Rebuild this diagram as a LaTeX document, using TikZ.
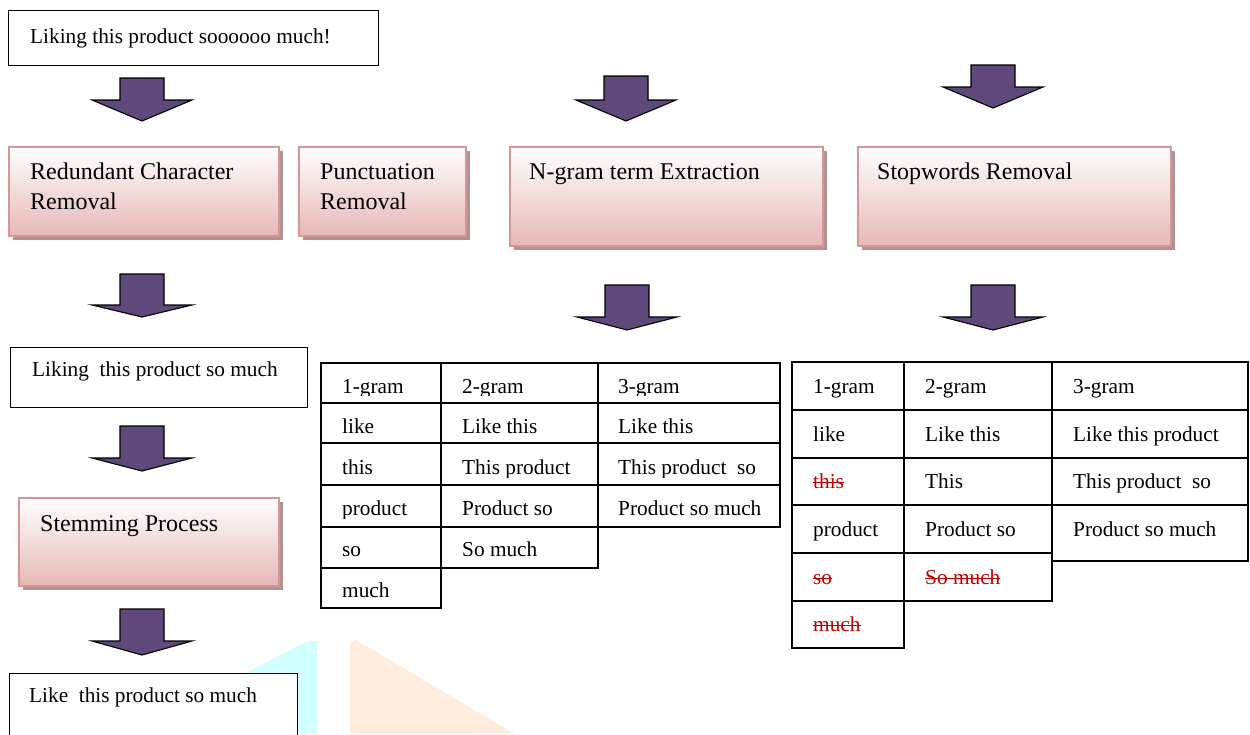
\documentclass[tikz,border=0pt]{standalone}
\usepackage{fontspec}
\setmainfont{Liberation Serif}
\usetikzlibrary{shadows}
\definecolor{arrowfill}{HTML}{5F497A}
\definecolor{pinkedge}{HTML}{D99594}
\definecolor{pinkbot}{HTML}{E5B8B7}
\definecolor{pinkmid}{HTML}{F3E1E1}
\definecolor{shadowc}{HTML}{B09393}
\definecolor{strikec}{HTML}{C00000}
\definecolor{wmcyan}{HTML}{D2FFFF}
\definecolor{wmorange}{HTML}{FFEEDD}
\newlength{\strklen}
\newcommand{\Strk}[1]{\settowidth{\strklen}{#1}\textcolor{strikec}{\rlap{\rule[0.24em]{\strklen}{1.1pt}}#1}}
\newcommand{\BlkArrow}[4]{% cx, top, body height, head height
  \draw[blockarr] (#1-22,#2) -- (#1+22,#2) -- (#1+22,#2+#3) -- (#1+50,#2+#3)
    -- (#1,#2+#3+#4) -- (#1-50,#2+#3) -- (#1-22,#2+#3) -- cycle;}
\tikzset{
  blockarr/.style={fill=arrowfill, draw=black, line width=1.1pt, line join=miter},
  plainbox/.style={draw=black, line width=1.4pt, fill=white, anchor=north west, inner sep=0pt},
  gradbox/.style={draw=pinkedge, line width=1.8pt, anchor=north west, inner sep=0pt,
    top color=white, middle color=pinkmid, bottom color=pinkbot,
    drop shadow={shadow xshift=4pt, shadow yshift=-4pt, fill=shadowc, opacity=1}},
  txt/.style={font=\fontsize{21.3pt}{25pt}\selectfont, anchor=base west, inner sep=0pt},
  btxt/.style={font=\fontsize{24pt}{28pt}\selectfont, anchor=base west, inner sep=0pt},
  tline/.style={draw=black, line width=1.6pt, line cap=rect}
}
\begin{document}
\begin{tikzpicture}[x=1pt, y=-1pt]
\useasboundingbox (0,0) rectangle (1250,734);
\fill[white] (0,0) rectangle (1250,734);
% background watermark
\fill[wmcyan] (128,734) -- (308,641) -- (317,641) -- (317,734) -- cycle;
\fill[wmorange] (350,734) -- (350,643) -- (356,640) -- (515,734) -- cycle;

% input box
\node[plainbox, minimum width=370pt, minimum height=55pt] (input) at (8,10) {};
\node[txt] (inputtxt) at (30,43) {Liking this product soooooo much!};

% processing boxes
\node[gradbox, minimum width=270pt, minimum height=89pt] (redund) at (8,146) {};
\node[btxt] (redundA) at (30,179) {Redundant Character};
\node[btxt] (redundB) at (30,209) {Removal};

\node[gradbox, minimum width=167pt, minimum height=89pt] (punct) at (298,146) {};
\node[btxt] (punctA) at (320,179) {Punctuation};
\node[btxt] (punctB) at (320,209) {Removal};

\node[gradbox, minimum width=313pt, minimum height=99pt] (ngram) at (509,146) {};
\node[btxt] (ngramtxt) at (529,179) {N-gram term Extraction};

\node[gradbox, minimum width=313pt, minimum height=99pt] (stop) at (857,146) {};
\node[btxt] (stoptxt) at (877,179) {Stopwords Removal};

\node[plainbox, minimum width=297pt, minimum height=60pt] (clean) at (10,347) {};
\node[txt] (cleantxt) at (32,376) {Liking\ \ this product so much};

\node[gradbox, minimum width=260pt, minimum height=88pt] (stem) at (18,497) {};
\node[btxt] (stemtxt) at (40,531) {Stemming Process};

\node[plainbox, minimum width=288pt, minimum height=80pt] (final) at (9,673) {};
\node[txt] (finaltxt) at (29,702) {Like\ \ this product so much};

% block arrows
\BlkArrow{142}{78}{22}{21}
\BlkArrow{626}{76}{24}{21}
\BlkArrow{993}{65}{22}{21}
\BlkArrow{142}{274}{31}{12}
\BlkArrow{627}{285}{32}{13}
\BlkArrow{993}{285}{32}{13}
\BlkArrow{142}{426}{32}{13}
\BlkArrow{142}{609}{32}{14}

% table 1 (N-gram)
\draw[tline] (321,363) -- (780,363) (321,403) -- (780,403) (321,443) -- (780,443)
  (321,485) -- (780,485) (321,527) -- (780,527) (321,568) -- (598,568) (321,608) -- (441,608);
\draw[tline] (321,363) -- (321,608) (441,363) -- (441,608) (598,363) -- (598,568) (780,363) -- (780,527);
\begin{scope}
\clip (321,363) rectangle (780,395);
\node[txt] (t1a) at (342,393) {1-gram};
\node[txt] (t1b) at (462,393) {2-gram};
\node[txt] (t1c) at (618,393) {3-gram};
\end{scope}
\node[txt] (t1d) at (342,433) {like};
\node[txt] (t1e) at (462,433) {Like this};
\node[txt] (t1f) at (618,433) {Like this};
\begin{scope}
\clip (321,443) rectangle (780,477);
\node[txt] (t1g) at (342,474) {this};
\node[txt] (t1h) at (462,474) {This product};
\node[txt] (t1i) at (618,474) {This product\ \ so};
\end{scope}
\begin{scope}
\clip (321,485) rectangle (780,518);
\node[txt] (t1j) at (342,515) {product};
\node[txt] (t1k) at (462,515) {Product so};
\node[txt] (t1l) at (618,515) {Product so much};
\end{scope}
\node[txt] (t1m) at (342,556) {so};
\node[txt] (t1n) at (462,556) {So much};
\node[txt] (t1o) at (342,597) {much};

% table 2 (stopwords)
\draw[tline] (792,362) -- (1248,362) (792,410) -- (1248,410) (792,458) -- (1248,458)
  (792,505) -- (1248,505) (792,553) -- (1052,553) (1052,561) -- (1248,561)
  (792,601) -- (1052,601) (792,648) -- (904,648);
\draw[tline] (792,362) -- (792,648) (904,362) -- (904,648) (1052,362) -- (1052,601) (1248,362) -- (1248,561);
\node[txt] (t2a) at (813,393) {1-gram};
\node[txt] (t2b) at (925,393) {2-gram};
\node[txt] (t2c) at (1073,393) {3-gram};
\node[txt] (t2d) at (813,441) {like};
\node[txt] (t2e) at (925,441) {Like this};
\node[txt] (t2f) at (1073,441) {Like this product};
\node[txt] (t2g) at (813,488) {\Strk{this}};
\node[txt] (t2h) at (925,488) {This};
\node[txt] (t2i) at (1073,488) {This product\ \ so};
\node[txt] (t2j) at (813,536) {product};
\node[txt] (t2k) at (925,536) {Product so};
\node[txt] (t2l) at (1073,536) {Product so much};
\node[txt] (t2m) at (813,584) {\Strk{so}};
\node[txt] (t2n) at (925,584) {\Strk{So much}};
\node[txt] (t2o) at (813,631) {\Strk{much}};
\end{tikzpicture}
\end{document}
